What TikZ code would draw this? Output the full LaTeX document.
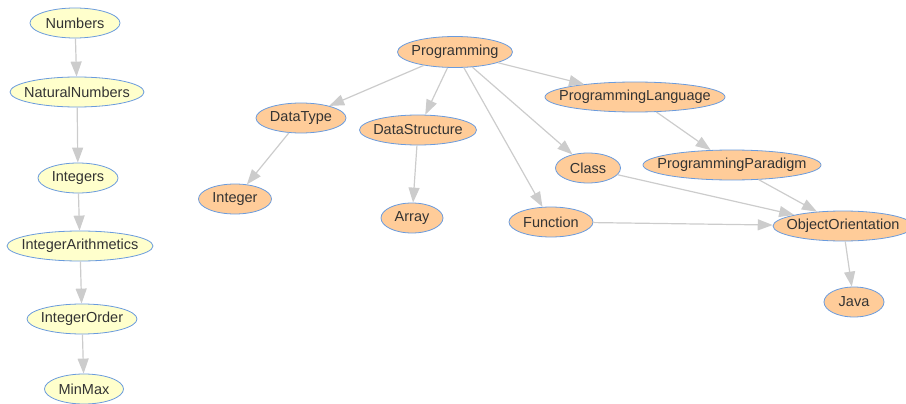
\documentclass[tikz,border=0pt]{standalone}
\usepackage{fontspec}
\setmainfont{Liberation Sans}
\usetikzlibrary{shapes.geometric,arrows.meta}
\definecolor{yfill}{HTML}{FFFFCC}
\definecolor{ofill}{HTML}{FFCC99}
\definecolor{bord}{HTML}{6A9BDD}
\definecolor{edgec}{HTML}{CCCCCC}
\definecolor{txt}{HTML}{333333}
\newcommand{\lbl}[1]{\makebox[0pt]{#1}}
\begin{document}
\begin{tikzpicture}[x=1pt,y=-1pt,
  base/.style={ellipse,draw=bord,line width=0.8pt,inner sep=0pt,minimum height=30pt,text=txt,font=\fontsize{14.5pt}{16pt}\selectfont},
  ynode/.style={base,fill=yfill},
  onode/.style={base,fill=ofill},
  conn/.style={draw=edgec,line width=1.2pt,-{Triangle[length=15pt,width=11pt,fill=edgec]}}]
\useasboundingbox (0,0) rectangle (906,404);
\node[ynode,minimum width=90pt] (num) at (75,23) {\lbl{Numbers}};
\node[ynode,minimum width=134pt] (nat) at (77,92) {\lbl{NaturalNumbers}};
\node[ynode,minimum width=80pt] (int) at (78,178) {\lbl{Integers}};
\node[ynode,minimum width=146pt] (ia) at (80,246) {\lbl{IntegerArithmetics}};
\node[ynode,minimum width=110pt] (io) at (82,319) {\lbl{IntegerOrder}};
\node[ynode,minimum width=79pt] (mm) at (84,389) {\lbl{MinMax}};
\node[onode,minimum width=115pt,minimum height=31pt] (prog) at (455,52) {\lbl{Programming}};
\node[onode,minimum width=90pt] (dt) at (301,118) {\lbl{DataType}};
\node[onode,minimum width=117pt] (ds) at (418,130) {\lbl{DataStructure}};
\node[onode,minimum width=180pt] (pl) at (635,97) {\lbl{ProgrammingLanguage}};
\node[onode,minimum width=65pt] (cls) at (588,168) {\lbl{Class}};
\node[onode,minimum width=178pt] (pp) at (732,165) {\lbl{ProgrammingParadigm}};
\node[onode,minimum width=73pt] (integer) at (235,199) {\lbl{Integer}};
\node[onode,minimum width=62pt] (arr) at (412,218) {\lbl{Array}};
\node[onode,minimum width=84pt] (fn) at (551,222) {\lbl{Function}};
\node[onode,minimum width=140pt] (oo) at (843,226) {\lbl{ObjectOrientation}};
\node[onode,minimum width=60pt] (java) at (854,302) {\lbl{Java}};
\draw[conn] (num) -- (nat);
\draw[conn] (nat) -- (int);
\draw[conn] (int) -- (ia);
\draw[conn] (ia) -- (io);
\draw[conn] (io) -- (mm);
\draw[conn] (prog) -- (dt);
\draw[conn] (prog) -- (ds);
\draw[conn] (prog) -- (pl);
\draw[conn] (prog) -- (cls);
\draw[conn] (prog) -- (fn);
\draw[conn] (dt) -- (integer);
\draw[conn] (ds) -- (arr);
\draw[conn] (pl) -- (pp);
\draw[conn] (pp) -- (oo);
\draw[conn] (cls) -- (oo);
\draw[conn] (fn) -- (oo);
\draw[conn] (oo) -- (java);
\end{tikzpicture}
\end{document}
